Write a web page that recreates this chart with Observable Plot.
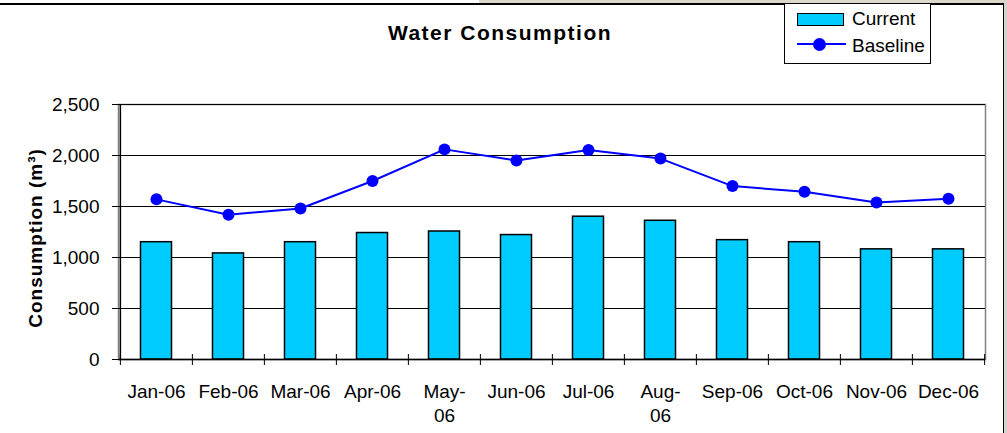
<!DOCTYPE html>
<html><head><meta charset="utf-8">
<script src="https://cdn.jsdelivr.net/npm/d3@7"></script>
<script src="https://cdn.jsdelivr.net/npm/@observablehq/plot@0.6"></script>
<style>
body{margin:0;background:#fff;}
#wrap{position:relative;width:1007px;height:433px;overflow:hidden;font-family:"Liberation Sans",Arial,sans-serif;color:#000;}
#chart{position:absolute;left:0;top:0;}
#chart svg{display:block;}
.abs{position:absolute;}
#title{left:300px;width:400px;top:22px;text-align:center;font-size:21px;line-height:21px;font-weight:bold;letter-spacing:1.5px;}
#legendBox{left:784px;top:3px;width:147px;height:61px;border:1.5px solid #000;background:#fff;box-sizing:border-box;}
.ltext{font-size:19px;line-height:19px;white-space:nowrap;}
#ylabel{left:35px;top:237.5px;transform:translate(-50%,-50%) rotate(-90deg);font-size:19px;line-height:19px;font-weight:bold;letter-spacing:1px;white-space:nowrap;}
</style></head><body>
<div id="wrap">
  <div class="abs" style="left:479px;top:0;width:528px;height:3px;background:#dcd8cc;"></div>
  <div class="abs" style="left:1004px;top:0;width:3px;height:433px;background:#d4d2cc;"></div>
  <div id="chart"></div>
  <div class="abs" style="left:0;top:3px;width:1004px;height:1.5px;background:#000;"></div>
  <div class="abs" style="left:1002.5px;top:3px;width:1.5px;height:430px;background:#000;"></div>
  <div id="title" class="abs">Water Consumption</div>
  <div id="legendBox" class="abs"></div>
  <div class="abs" style="left:797px;top:12.5px;width:47px;height:13px;background:#00ccff;border:1.5px solid #000;box-sizing:border-box;"></div>
  <div class="abs ltext" style="left:852px;top:9px;">Current</div>
  <div class="abs" style="left:797px;top:43.3px;width:49px;height:2px;background:#0000ff;"></div>
  <div class="abs" style="left:812.5px;top:37.8px;width:13px;height:13px;border-radius:50%;background:#0000ff;"></div>
  <div class="abs ltext" style="left:852px;top:35.5px;">Baseline</div>
  <div id="ylabel" class="abs">Consumption (m³)</div>
</div>
<script>
const months = ["Jan-06","Feb-06","Mar-06","Apr-06","May-06","Jun-06","Jul-06","Aug-06","Sep-06","Oct-06","Nov-06","Dec-06"];
const tickLabels = ["Jan-06","Feb-06","Mar-06","Apr-06","May-\n06","Jun-06","Jul-06","Aug-\n06","Sep-06","Oct-06","Nov-06","Dec-06"];
const current = [1150,1040,1150,1240,1255,1220,1400,1360,1170,1150,1080,1080];
const baseline = [1570,1420,1480,1750,2060,1950,2055,1970,1700,1645,1540,1575];
const yTicks = [0,500,1000,1500,2000,2500];

const data = months.map((m,i)=>({month:m, current:current[i], baseline:baseline[i]}));
const labelOf = new Map(months.map((m,i)=>[m, tickLabels[i]]));

const W=1007, H=433, ML=118, MR=22, MT=104, MB=74;
const bw = (W-ML-MR)/months.length;

const plot = Plot.plot({
  width: W, height: H,
  marginLeft: ML, marginRight: MR, marginTop: MT, marginBottom: MB,
  style: {fontFamily: "'Liberation Sans', Arial, sans-serif", fontSize: "19px", background: "transparent", color: "#000"},
  x: {type: "band", domain: months, padding: 0},
  y: {domain: [0, 2500]},
  marks: [
    Plot.frame({stroke: "#808080", strokeWidth: 1.5}),
    Plot.ruleY(yTicks, {stroke: "#000", strokeWidth: 1}),
    Plot.barY(data, {x: "month", y: "current", fill: "#00ccff", stroke: "#000", strokeWidth: 1.5, insetLeft: 20.5, insetRight: 20.5}),
    Plot.lineY(data, {x: "month", y: "baseline", stroke: "#0000ff", strokeWidth: 2}),
    Plot.dot(data, {x: "month", y: "baseline", r: 6, fill: "#0000ff"}),
    Plot.ruleX(months, {x: d => d, y1: 0, y2: 0, insetTop: -5, insetBottom: -6, dx: -bw/2, stroke: "#000", strokeWidth: 1}),
    Plot.ruleX([months[months.length-1]], {x: d => d, y1: 0, y2: 0, insetTop: -5, insetBottom: -6, dx: bw/2, stroke: "#000", strokeWidth: 1}),
    Plot.ruleX([months[0]], {x: d => d, dx: -bw/2, stroke: "#000", strokeWidth: 1.5}),
    Plot.ruleY([0], {stroke: "#000", strokeWidth: 1.5}),
    Plot.axisY({ticks: yTicks, tickFormat: d3.format(","), tickSize: 6, tickPadding: 13, fontSize: 19, label: null}),
    Plot.axisX({tickSize: 0, tickPadding: 21.5, tickFormat: d => labelOf.get(d), lineHeight: 1.25, fontSize: 19, label: null})
  ]
});
document.getElementById("chart").appendChild(plot);
</script>
</body></html>
